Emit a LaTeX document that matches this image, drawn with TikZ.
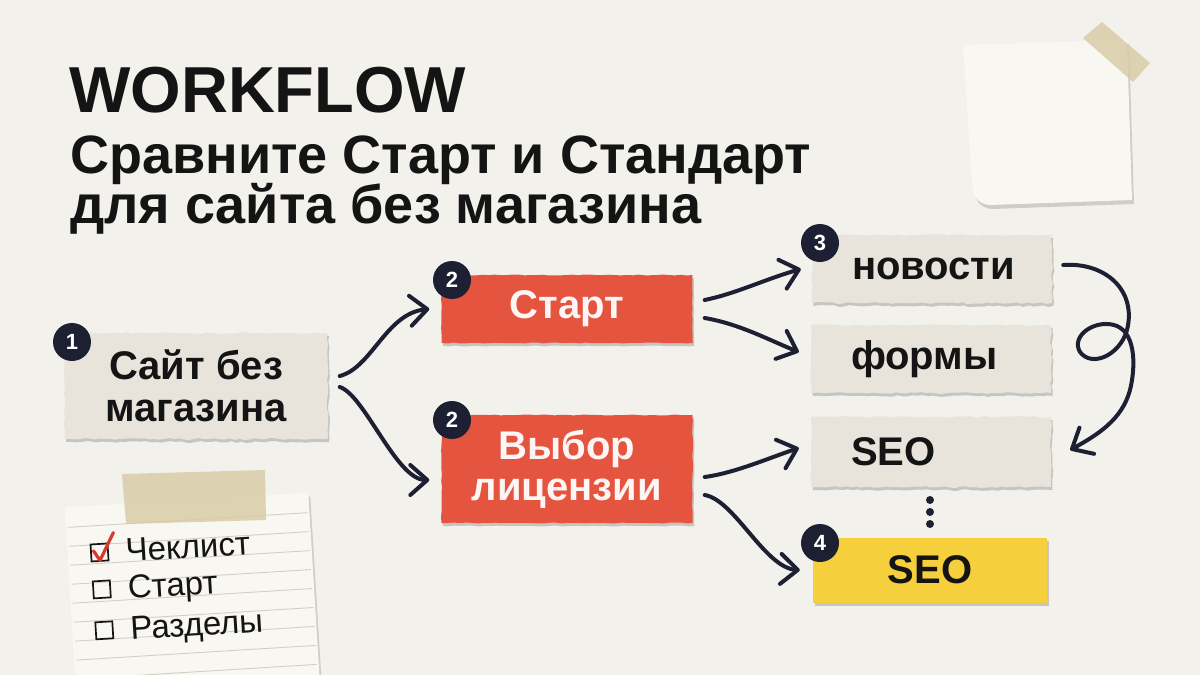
\documentclass[tikz,border=0pt]{standalone}
\usepackage{fontspec}
\setmainfont{Liberation Sans}
\usepackage{tikz}
\usetikzlibrary{arrows.meta,positioning,shadows,decorations.pathmorphing}
\definecolor{bgPaper}{HTML}{F3F1EC}
\definecolor{paperBeige}{HTML}{E8E4DC}
\definecolor{redTape}{HTML}{E5543F}
\definecolor{yellowTape}{HTML}{F6D03C}
\definecolor{inkNavy}{HTML}{1D2033}
\definecolor{inkBlack}{HTML}{141414}
\definecolor{tapeBeige}{HTML}{D9CCA6}
\definecolor{noteWhite}{HTML}{F8F7F2}
\definecolor{ruleGrey}{HTML}{D2CEC6}
\definecolor{checkRed}{HTML}{D8392C}
\tikzset{
  >={Straight Barb[length=17pt,width=30pt,round]},
  boxtext/.style={font=\fontsize{40}{42}\selectfont\bfseries, text=inkBlack},
  papershadow/.style={drop shadow={shadow xshift=1.5pt, shadow yshift=-3pt, opacity=0.18, fill=black}},
  paper/.style={fill=paperBeige, papershadow, inner sep=0pt, minimum height=68pt, boxtext,
                decorate, decoration={random steps, segment length=5pt, amplitude=0.9pt}},
  leftpaper/.style={paper, minimum width=240pt, text width=160pt, inner xsep=40pt, align=left},
  redbox/.style={fill=redTape, papershadow, inner sep=0pt, minimum width=251pt, align=center,
                 font=\fontsize{40}{41}\selectfont\bfseries, text=white!95!redTape,
                 decorate, decoration={random steps, segment length=6pt, amplitude=0.5pt}},
  yellowbox/.style={fill=yellowTape, papershadow, inner sep=0pt, minimum width=234pt, minimum height=65pt,
                    boxtext},
  badge/.style={circle, fill=inkNavy, text=white, inner sep=0pt, minimum size=38pt,
                font=\fontsize{22}{22}\selectfont\bfseries},
  flow/.style={draw=inkNavy, line width=4pt, line cap=round, ->},
  dotnode/.style={circle, fill=inkNavy, inner sep=0pt, minimum size=8pt},
  titletext/.style={font=\fontsize{65}{65}\selectfont\bfseries, text=inkBlack, inner sep=0pt},
  subtext/.style={font=\fontsize{54}{54}\selectfont\bfseries, text=inkBlack, inner sep=0pt},
  notepaper/.style={fill=noteWhite, drop shadow={shadow xshift=2pt, shadow yshift=-4pt, opacity=0.15, fill=black}},
  tape/.style={fill=tapeBeige, opacity=0.85},
  ruleline/.style={draw=ruleGrey, line width=0.9pt},
  listtext/.style={font=\fontsize{33}{33}\selectfont, text=inkBlack, inner sep=0pt, rotate=3.5},
  checkbox/.style={draw=inkBlack, line width=1.7pt, minimum size=17pt, inner sep=0pt, rotate=3.5},
  checkmark/.style={draw=checkRed, line width=3.2pt, line cap=round, line join=round},
}

\begin{document}
\begin{tikzpicture}[x=1pt,y=-1pt]
  \pgfmathsetseed{7}

  % ── Background sheet ──
  \fill[bgPaper] (0,0) rectangle (1200,675);
  \useasboundingbox (0,0) rectangle (1200,675);

  % ── Sticky note with tape (top right) ──
  \fill[notepaper] (963,45) -- (1127,40) -- (1132,200) -- (990,205)
    .. controls (979,204) and (974,198) .. (972,186) -- cycle;
  \fill[tape] (1083,38) -- (1102,22) -- (1150,63) -- (1133,82) -- cycle;

  % ── Title block ──
  \node[titletext, anchor=base west] (title) at (69,112) {WORKFLOW};
  \node[subtext, anchor=base west] (subA) at (70,173) {Сравните Старт и Стандарт};
  \node[subtext, anchor=base west] (subB) at (70,223) {для сайта без магазина};

  % ── Step boxes ──
  \node[paper, minimum width=263pt, minimum height=106pt, align=center] (site) at (196,386) {Сайт без\\магазина};
  \node[redbox, minimum height=68pt]  (start)   at (567,309) {Старт};
  \node[redbox, minimum height=108pt] (license) at (567,469) {Выбор\\лицензии};
  \node[leftpaper] (news)  at (932,269) {новости};
  \node[leftpaper] (forms) at (931,359) {формы};
  \node[leftpaper, minimum height=70pt] (seo) at (931,452) {SEO};
  \node[yellowbox] (seofinal) at (930,570) {SEO};

  % ── Number badges ──
  \node[badge] (n1)  at (72,342)  {1};
  \node[badge] (n2a) at (452,280) {2};
  \node[badge] (n2b) at (452,420) {2};
  \node[badge] (n3)  at (820,243) {3};
  \node[badge] (n4)  at (820,543) {4};

  % ── Ellipsis between SEO boxes ──
  \foreach \i/\yy in {1/500,2/512,3/524} {
    \node[dotnode] (dot\i) at (930,\yy) {};
  }

  % ── Hand-drawn connectors ──
  \draw[flow] ([xshift=12pt,yshift=10pt]site.east) .. controls +(32,-8) and +(-43,4) .. ([xshift=-12pt]start.west);
  \draw[flow] ([xshift=12pt,yshift=-1pt]site.east) .. controls +(25,8) and +(-33,0) .. ([xshift=-12pt,yshift=-11pt]license.west);
  \draw[flow] ([xshift=12pt,yshift=9pt]start.east) .. controls +(30,-6) and +(-35,10) .. ([xshift=-11pt]news.west);
  \draw[flow] ([xshift=12pt,yshift=-9pt]start.east) .. controls +(35,6) and +(-30,-12) .. ([xshift=-12pt,yshift=7pt]forms.west);
  \draw[flow] ([xshift=12pt,yshift=-8pt]license.east) .. controls +(30,-4) and +(-30,10) .. ([xshift=-12pt,yshift=4pt]seo.west);
  \draw[flow] ([xshift=12pt,yshift=-26pt]license.east) .. controls +(30,5) and +(-35,-2) .. ([xshift=-13pt]seofinal.west);

  % ── Curly loop: новости → SEO ──
  \draw[flow] ([xshift=11pt,yshift=4pt]news.east)
    .. controls (1105,262) and (1137,290) .. (1127,330)
    .. controls (1120,355) and (1092,368) .. (1080,352)
    .. controls (1070,335) and (1097,318) .. (1117,326)
    .. controls (1137,335) and (1135,370) .. (1130,390)
    .. controls (1122,420) and (1097,435) .. ([xshift=19pt,yshift=2pt]seo.east);

  % ── Checklist note (bottom left), slightly tilted ──
  \begin{scope}[rotate around={3.5:(190,590)}]
    \fill[notepaper] (70,500) rectangle (314,695);
    \foreach \ly in {520,539,...,690} {
      \draw[ruleline] (72,\ly) -- (312,\ly);
    }
    \node[checkbox] (cb1) at (102,547) {};
    \node[checkbox] (cb2) at (102,584) {};
    \node[checkbox] (cb3) at (102,625) {};
    \node[listtext, anchor=base west] (item1) at (128,558) {Чеклист};
    \node[listtext, anchor=base west] (item2) at (128,595) {Старт};
    \node[listtext, anchor=base west] (item3) at (128,636) {Разделы};
    \draw[checkmark] (96,545) -- (102,555) -- (117,528);
  \end{scope}
  \fill[tape] (122,474) -- (265,470) -- (266,520) -- (126,524) -- cycle;
\end{tikzpicture}
\end{document}
